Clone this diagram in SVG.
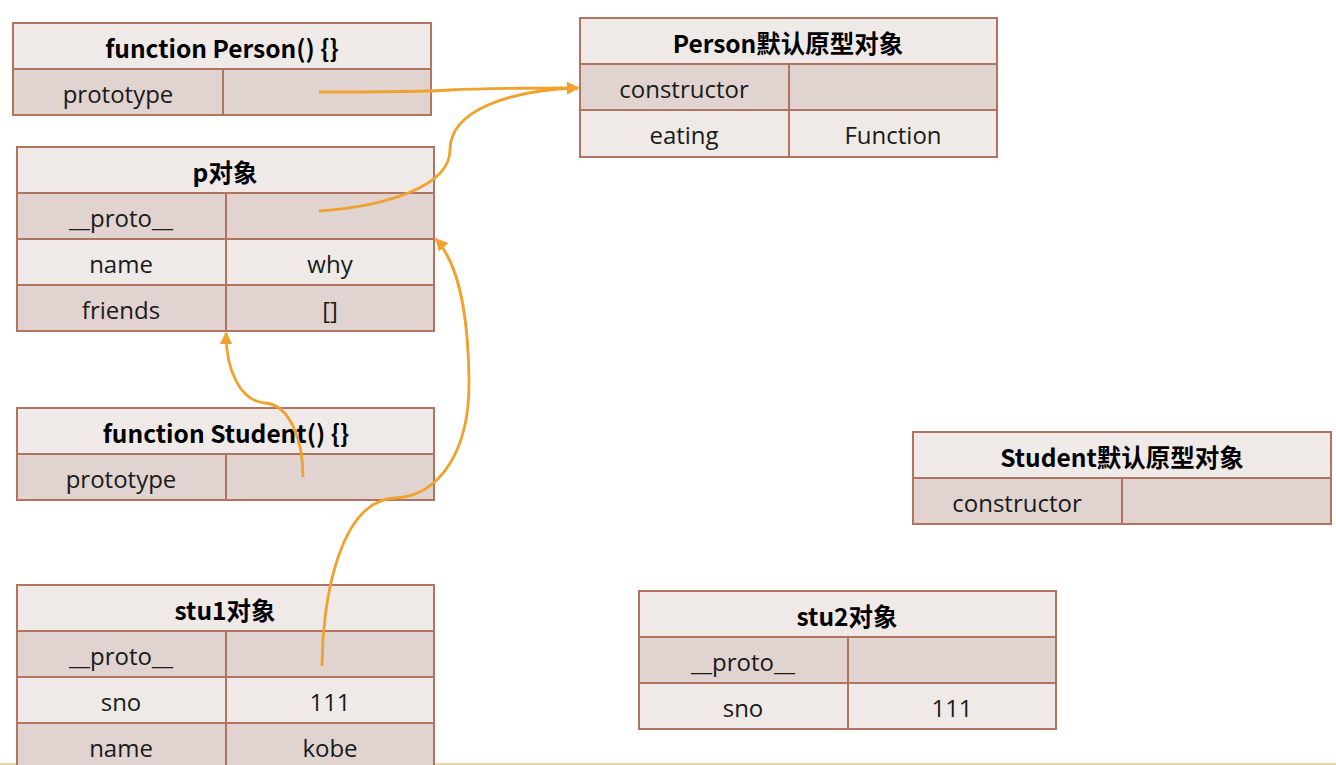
<svg xmlns="http://www.w3.org/2000/svg" width="1336" height="765" viewBox="0 0 1336 765">
<style>
.h{fill:#EFEAE8;stroke:#B07460;stroke-width:2}
.d{fill:#E0D3D0;stroke:#B07460;stroke-width:2}
.l{fill:#EFEAE8;stroke:#B07460;stroke-width:2}
.ln{stroke:#B07460;stroke-width:2}
text{font-family:"Open Sans","Noto Sans CJK SC",sans-serif;font-size:24px;fill:#1a1a1a;text-anchor:middle;dominant-baseline:central}
.b{font-family:"Noto Sans CJK SC","Open Sans",sans-serif;font-weight:bold;font-size:24.5px;fill:#000}
.c{fill:none;stroke:#F0A22E;stroke-width:2.8;marker-end:url(#ah)}
</style>
<defs>
<marker id="ah" viewBox="0 0 10 10" refX="9" refY="5" markerWidth="4.5" markerHeight="4.5" orient="auto" markerUnits="strokeWidth"><path d="M0,0 L10,5 L0,10 z" fill="#F0A22E"/></marker>
</defs>
<rect width="1336" height="765" fill="#fff"/>
<line x1="0" y1="764" x2="1336" y2="764" stroke="#E6D3A6" stroke-width="2"/>

<g id="person-fn">
<rect class="h" x="13" y="23" width="418" height="46"/>
<rect class="d" x="13" y="69" width="418" height="46"/>
<line class="ln" x1="223" y1="69" x2="223" y2="115"/>
<text class="b" x="222" y="47">function Person() {}</text>
<text x="118" y="93">prototype</text>
</g>

<g id="person-proto">
<rect class="h" x="580" y="18" width="417" height="46"/>
<rect class="d" x="580" y="64" width="417" height="46"/>
<rect class="l" x="580" y="110" width="417" height="47"/>
<line class="ln" x1="789" y1="64" x2="789" y2="157"/>
<text class="b" x="788" y="42">Person默认原型对象</text>
<text x="684" y="88">constructor</text>
<text x="684" y="134">eating</text>
<text x="893" y="134">Function</text>
</g>

<g id="p-obj">
<rect class="h" x="17" y="147" width="417" height="46"/>
<rect class="d" x="17" y="193" width="417" height="46"/>
<rect class="l" x="17" y="239" width="417" height="46"/>
<rect class="d" x="17" y="285" width="417" height="46"/>
<line class="ln" x1="226" y1="193" x2="226" y2="331"/>
<text class="b" x="225" y="171">p对象</text>
<text x="121" y="217">__proto__</text>
<text x="121" y="263">name</text>
<text x="330" y="263">why</text>
<text x="121" y="309">friends</text>
<text x="330" y="309">[]</text>
</g>

<g id="student-fn">
<rect class="h" x="17" y="408" width="417" height="46"/>
<rect class="d" x="17" y="454" width="417" height="46"/>
<line class="ln" x1="226" y1="454" x2="226" y2="500"/>
<text class="b" x="226" y="432">function Student() {}</text>
<text x="121" y="478">prototype</text>
</g>

<g id="student-proto">
<rect class="h" x="913" y="432" width="418" height="46"/>
<rect class="d" x="913" y="478" width="418" height="46"/>
<line class="ln" x1="1122" y1="478" x2="1122" y2="524"/>
<text class="b" x="1122" y="456">Student默认原型对象</text>
<text x="1017" y="502">constructor</text>
</g>

<g id="stu1">
<rect class="h" x="17" y="585" width="417" height="46"/>
<rect class="d" x="17" y="631" width="417" height="46"/>
<rect class="l" x="17" y="677" width="417" height="46"/>
<rect class="d" x="17" y="723" width="417" height="46"/>
<line class="ln" x1="226" y1="631" x2="226" y2="769"/>
<text class="b" x="225" y="609">stu1对象</text>
<text x="121" y="655">__proto__</text>
<text x="121" y="701">sno</text>
<text x="330" y="701">111</text>
<text x="121" y="747">name</text>
<text x="330" y="747">kobe</text>
</g>

<g id="stu2">
<rect class="h" x="639" y="591" width="417" height="46"/>
<rect class="d" x="639" y="637" width="417" height="46"/>
<rect class="l" x="639" y="683" width="417" height="46"/>
<line class="ln" x1="848" y1="637" x2="848" y2="729"/>
<text class="b" x="847" y="615">stu2对象</text>
<text x="743" y="661">__proto__</text>
<text x="743" y="707">sno</text>
<text x="952" y="707">111</text>
</g>

<g id="connectors">
<path class="c" d="M319,92 C380,92 420,92 450,90 C490,88 540,88 578,88"/>
<path class="c" d="M319,211 C390,206 450,185 450,150 C450,110 510,90 578,88"/>
<path class="c" d="M303,477 C303,440 290,405 265,403 C240,401 226,370 226,333"/>
<path class="c" d="M322,666 C322,600 340,500 395,498 C440,496 470,450 469,380 C468,300 455,260 436,239"/>
</g>
</svg>
